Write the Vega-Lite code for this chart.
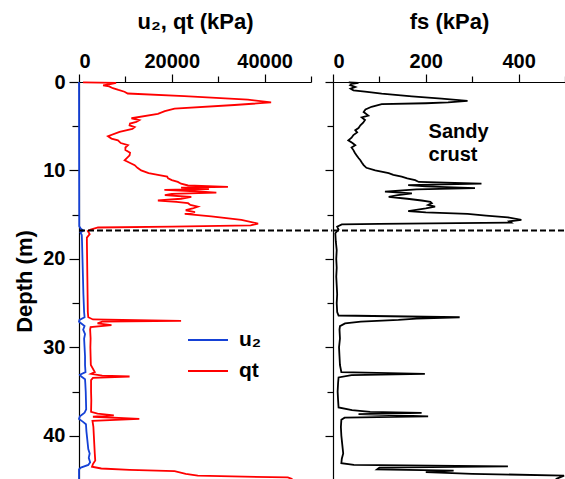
{
  "$schema": "https://vega.github.io/schema/vega-lite/v6.json",
  "padding": {"left": 13, "top": 10, "right": 0, "bottom": 0},
  "background": "white",
  "config": {
    "view": {"stroke": null},
    "font": "Liberation Sans",
    "axis": {
      "grid": false,
      "labelFont": "Liberation Sans", "labelFontWeight": "bold", "labelFontSize": 20, "labelColor": "black",
      "titleFont": "Liberation Sans", "titleFontWeight": "bold", "titleFontSize": 22, "titleColor": "black",
      "domainColor": "black", "tickColor": "black", "domainWidth": 1.2, "tickWidth": 1.2
    }
  },
  "datasets": {
    "left": [
      {"param": "u₂", "depth": 0, "value": 0}, {"param": "u₂", "depth": 16.3, "value": 50}, {"param": "u₂", "depth": 16.6, "value": 400},
      {"param": "u₂", "depth": 16.8, "value": 950}, {"param": "u₂", "depth": 17.0, "value": 300}, {"param": "u₂", "depth": 17.3, "value": 600},
      {"param": "u₂", "depth": 18, "value": 650}, {"param": "u₂", "depth": 20, "value": 750}, {"param": "u₂", "depth": 22, "value": 850},
      {"param": "u₂", "depth": 24, "value": 950}, {"param": "u₂", "depth": 26, "value": 1100}, {"param": "u₂", "depth": 26.6, "value": 1200},
      {"param": "u₂", "depth": 26.9, "value": 100}, {"param": "u₂", "depth": 27.1, "value": 0}, {"param": "u₂", "depth": 27.3, "value": 500},
      {"param": "u₂", "depth": 27.6, "value": 1200}, {"param": "u₂", "depth": 28, "value": 900}, {"param": "u₂", "depth": 28.5, "value": 1300},
      {"param": "u₂", "depth": 29, "value": 1100}, {"param": "u₂", "depth": 30, "value": 1200}, {"param": "u₂", "depth": 31, "value": 1300},
      {"param": "u₂", "depth": 32, "value": 1300}, {"param": "u₂", "depth": 32.8, "value": 1400}, {"param": "u₂", "depth": 33.1, "value": 200},
      {"param": "u₂", "depth": 33.3, "value": 500}, {"param": "u₂", "depth": 33.6, "value": 1300}, {"param": "u₂", "depth": 34, "value": 1350},
      {"param": "u₂", "depth": 35, "value": 1450}, {"param": "u₂", "depth": 36, "value": 1500}, {"param": "u₂", "depth": 37, "value": 1550},
      {"param": "u₂", "depth": 37.4, "value": 1200}, {"param": "u₂", "depth": 37.8, "value": 200}, {"param": "u₂", "depth": 38.1, "value": 0},
      {"param": "u₂", "depth": 38.4, "value": 800}, {"param": "u₂", "depth": 38.7, "value": 1500}, {"param": "u₂", "depth": 39.5, "value": 1600},
      {"param": "u₂", "depth": 40.5, "value": 1800}, {"param": "u₂", "depth": 41.5, "value": 2000}, {"param": "u₂", "depth": 42, "value": 2300},
      {"param": "u₂", "depth": 42.5, "value": 2100}, {"param": "u₂", "depth": 43, "value": 2400}, {"param": "u₂", "depth": 43.3, "value": 2000},
      {"param": "u₂", "depth": 43.6, "value": 400}, {"param": "u₂", "depth": 43.8, "value": 0}, {"param": "u₂", "depth": 45, "value": 0},
      {"param": "qt", "depth": 0.05, "value": 860}, {"param": "qt", "depth": 0.1, "value": 8000}, {"param": "qt", "depth": 0.2, "value": 7000},
      {"param": "qt", "depth": 0.37, "value": 5200}, {"param": "qt", "depth": 0.5, "value": 6500}, {"param": "qt", "depth": 0.7, "value": 7300},
      {"param": "qt", "depth": 0.9, "value": 8500}, {"param": "qt", "depth": 1.1, "value": 9800}, {"param": "qt", "depth": 1.3, "value": 10500},
      {"param": "qt", "depth": 1.6, "value": 22700}, {"param": "qt", "depth": 2.0, "value": 36400}, {"param": "qt", "depth": 2.3, "value": 41400},
      {"param": "qt", "depth": 2.4, "value": 39000}, {"param": "qt", "depth": 2.6, "value": 33500}, {"param": "qt", "depth": 3.0, "value": 20600},
      {"param": "qt", "depth": 3.3, "value": 18500}, {"param": "qt", "depth": 3.6, "value": 17000}, {"param": "qt", "depth": 4.1, "value": 11300},
      {"param": "qt", "depth": 4.3, "value": 13000}, {"param": "qt", "depth": 4.5, "value": 12350}, {"param": "qt", "depth": 4.7, "value": 11000},
      {"param": "qt", "depth": 4.9, "value": 10900}, {"param": "qt", "depth": 5.1, "value": 12000}, {"param": "qt", "depth": 5.3, "value": 11500},
      {"param": "qt", "depth": 5.65, "value": 8750}, {"param": "qt", "depth": 6.13, "value": 6250}, {"param": "qt", "depth": 6.4, "value": 7000},
      {"param": "qt", "depth": 6.6, "value": 8400}, {"param": "qt", "depth": 6.9, "value": 9000}, {"param": "qt", "depth": 7.15, "value": 10550},
      {"param": "qt", "depth": 7.4, "value": 10000}, {"param": "qt", "depth": 7.7, "value": 10000}, {"param": "qt", "depth": 8.0, "value": 11000},
      {"param": "qt", "depth": 8.3, "value": 10900}, {"param": "qt", "depth": 8.6, "value": 10300}, {"param": "qt", "depth": 8.85, "value": 9830},
      {"param": "qt", "depth": 9.1, "value": 10800}, {"param": "qt", "depth": 9.4, "value": 12000}, {"param": "qt", "depth": 9.7, "value": 12600},
      {"param": "qt", "depth": 10.0, "value": 13400}, {"param": "qt", "depth": 10.3, "value": 15000}, {"param": "qt", "depth": 10.5, "value": 17000},
      {"param": "qt", "depth": 10.7, "value": 19000}, {"param": "qt", "depth": 10.9, "value": 19200}, {"param": "qt", "depth": 11.1, "value": 20000},
      {"param": "qt", "depth": 11.3, "value": 21300}, {"param": "qt", "depth": 11.5, "value": 22000}, {"param": "qt", "depth": 11.7, "value": 23500},
      {"param": "qt", "depth": 11.85, "value": 32100}, {"param": "qt", "depth": 11.95, "value": 22000}, {"param": "qt", "depth": 12.1, "value": 28000},
      {"param": "qt", "depth": 12.2, "value": 18400}, {"param": "qt", "depth": 12.35, "value": 25000}, {"param": "qt", "depth": 12.5, "value": 29600},
      {"param": "qt", "depth": 12.65, "value": 20000}, {"param": "qt", "depth": 12.8, "value": 18500}, {"param": "qt", "depth": 13.0, "value": 24200},
      {"param": "qt", "depth": 13.2, "value": 22000}, {"param": "qt", "depth": 13.4, "value": 17000}, {"param": "qt", "depth": 13.55, "value": 21000},
      {"param": "qt", "depth": 13.7, "value": 23500}, {"param": "qt", "depth": 13.9, "value": 24000}, {"param": "qt", "depth": 14.1, "value": 25600},
      {"param": "qt", "depth": 14.3, "value": 24500}, {"param": "qt", "depth": 14.5, "value": 23000}, {"param": "qt", "depth": 14.7, "value": 25000},
      {"param": "qt", "depth": 14.9, "value": 22800}, {"param": "qt", "depth": 15.2, "value": 28500}, {"param": "qt", "depth": 15.6, "value": 35000},
      {"param": "qt", "depth": 16.0, "value": 38600}, {"param": "qt", "depth": 16.2, "value": 37000}, {"param": "qt", "depth": 16.35, "value": 20000},
      {"param": "qt", "depth": 16.45, "value": 4100}, {"param": "qt", "depth": 16.7, "value": 2500}, {"param": "qt", "depth": 16.85, "value": 1900},
      {"param": "qt", "depth": 17.2, "value": 2300}, {"param": "qt", "depth": 17.6, "value": 1700}, {"param": "qt", "depth": 18, "value": 1700},
      {"param": "qt", "depth": 20, "value": 1750}, {"param": "qt", "depth": 22, "value": 1800}, {"param": "qt", "depth": 24, "value": 1850},
      {"param": "qt", "depth": 26, "value": 1900}, {"param": "qt", "depth": 26.6, "value": 2000}, {"param": "qt", "depth": 26.85, "value": 3000},
      {"param": "qt", "depth": 27.0, "value": 22000}, {"param": "qt", "depth": 27.1, "value": 5000}, {"param": "qt", "depth": 27.3, "value": 4000},
      {"param": "qt", "depth": 27.5, "value": 7000}, {"param": "qt", "depth": 27.7, "value": 2500}, {"param": "qt", "depth": 28, "value": 2400},
      {"param": "qt", "depth": 29, "value": 2500}, {"param": "qt", "depth": 30, "value": 2450}, {"param": "qt", "depth": 31, "value": 2500},
      {"param": "qt", "depth": 32, "value": 2550}, {"param": "qt", "depth": 32.8, "value": 3400}, {"param": "qt", "depth": 33.0, "value": 2600},
      {"param": "qt", "depth": 33.2, "value": 5000}, {"param": "qt", "depth": 33.3, "value": 10900}, {"param": "qt", "depth": 33.45, "value": 3000},
      {"param": "qt", "depth": 33.7, "value": 2600}, {"param": "qt", "depth": 35, "value": 2600}, {"param": "qt", "depth": 36, "value": 2650},
      {"param": "qt", "depth": 37.3, "value": 2600}, {"param": "qt", "depth": 37.5, "value": 4000}, {"param": "qt", "depth": 37.7, "value": 7500},
      {"param": "qt", "depth": 37.85, "value": 3000}, {"param": "qt", "depth": 38.1, "value": 13000}, {"param": "qt", "depth": 38.3, "value": 2900},
      {"param": "qt", "depth": 39, "value": 3100}, {"param": "qt", "depth": 40, "value": 3200}, {"param": "qt", "depth": 41, "value": 3300},
      {"param": "qt", "depth": 42, "value": 3400}, {"param": "qt", "depth": 42.8, "value": 3500}, {"param": "qt", "depth": 43.2, "value": 3000},
      {"param": "qt", "depth": 43.5, "value": 2800}, {"param": "qt", "depth": 43.7, "value": 4800}, {"param": "qt", "depth": 43.85, "value": 10900},
      {"param": "qt", "depth": 44.0, "value": 20600}, {"param": "qt", "depth": 44.3, "value": 23000}, {"param": "qt", "depth": 44.5, "value": 25600},
      {"param": "qt", "depth": 44.6, "value": 33000}, {"param": "qt", "depth": 44.7, "value": 45000}, {"param": "qt", "depth": 44.9, "value": 46000}
    ],
    "fs": [
      {"depth": 0.05, "fs": 34}, {"depth": 0.1, "fs": 55}, {"depth": 0.2, "fs": 40}, {"depth": 0.35, "fs": 37}, {"depth": 0.56, "fs": 48},
      {"depth": 0.75, "fs": 38}, {"depth": 0.94, "fs": 44}, {"depth": 1.1, "fs": 69}, {"depth": 1.32, "fs": 105}, {"depth": 1.62, "fs": 170},
      {"depth": 1.88, "fs": 234}, {"depth": 2.14, "fs": 290}, {"depth": 2.3, "fs": 248}, {"depth": 2.4, "fs": 200}, {"depth": 2.5, "fs": 105},
      {"depth": 2.8, "fs": 83}, {"depth": 3.1, "fs": 70}, {"depth": 3.4, "fs": 66}, {"depth": 3.8, "fs": 76}, {"depth": 4.0, "fs": 62},
      {"depth": 4.3, "fs": 69}, {"depth": 4.6, "fs": 65}, {"depth": 4.9, "fs": 59}, {"depth": 5.2, "fs": 55}, {"depth": 5.45, "fs": 48},
      {"depth": 5.7, "fs": 52}, {"depth": 6.0, "fs": 44}, {"depth": 6.3, "fs": 40}, {"depth": 6.6, "fs": 33}, {"depth": 6.9, "fs": 42},
      {"depth": 7.15, "fs": 48}, {"depth": 7.4, "fs": 40}, {"depth": 7.7, "fs": 44}, {"depth": 8.0, "fs": 47}, {"depth": 8.3, "fs": 51},
      {"depth": 8.6, "fs": 55}, {"depth": 8.85, "fs": 59}, {"depth": 9.1, "fs": 62}, {"depth": 9.4, "fs": 66}, {"depth": 9.7, "fs": 72},
      {"depth": 10.0, "fs": 91}, {"depth": 10.3, "fs": 120}, {"depth": 10.5, "fs": 130}, {"depth": 10.7, "fs": 148}, {"depth": 10.9, "fs": 160},
      {"depth": 11.1, "fs": 177}, {"depth": 11.3, "fs": 185}, {"depth": 11.5, "fs": 320}, {"depth": 11.65, "fs": 162}, {"depth": 11.8, "fs": 200},
      {"depth": 12.0, "fs": 306}, {"depth": 12.15, "fs": 180}, {"depth": 12.4, "fs": 112}, {"depth": 12.6, "fs": 170}, {"depth": 12.8, "fs": 140},
      {"depth": 13.0, "fs": 120}, {"depth": 13.2, "fs": 160}, {"depth": 13.4, "fs": 191}, {"depth": 13.55, "fs": 210}, {"depth": 13.7, "fs": 213},
      {"depth": 13.9, "fs": 205}, {"depth": 14.1, "fs": 220}, {"depth": 14.3, "fs": 200}, {"depth": 14.6, "fs": 162}, {"depth": 14.75, "fs": 200},
      {"depth": 14.9, "fs": 290}, {"depth": 15.1, "fs": 330}, {"depth": 15.3, "fs": 377}, {"depth": 15.6, "fs": 406}, {"depth": 15.75, "fs": 380},
      {"depth": 15.9, "fs": 384}, {"depth": 16.05, "fs": 100}, {"depth": 16.1, "fs": 19}, {"depth": 16.35, "fs": 9}, {"depth": 16.7, "fs": 12},
      {"depth": 17.1, "fs": 5}, {"depth": 18, "fs": 6}, {"depth": 19, "fs": 8}, {"depth": 20, "fs": 7}, {"depth": 21, "fs": 8},
      {"depth": 22, "fs": 7}, {"depth": 23, "fs": 8}, {"depth": 24, "fs": 9}, {"depth": 25, "fs": 8}, {"depth": 26, "fs": 9},
      {"depth": 26.4, "fs": 12}, {"depth": 26.6, "fs": 273}, {"depth": 26.75, "fs": 180}, {"depth": 26.9, "fs": 141}, {"depth": 27.1, "fs": 60},
      {"depth": 27.3, "fs": 26}, {"depth": 27.6, "fs": 15}, {"depth": 28, "fs": 14}, {"depth": 29, "fs": 15}, {"depth": 30, "fs": 13},
      {"depth": 31, "fs": 14}, {"depth": 32, "fs": 15}, {"depth": 32.8, "fs": 18}, {"depth": 33.0, "fs": 198}, {"depth": 33.15, "fs": 40},
      {"depth": 33.4, "fs": 12}, {"depth": 34, "fs": 11}, {"depth": 35, "fs": 10}, {"depth": 36, "fs": 11}, {"depth": 36.8, "fs": 12},
      {"depth": 37.1, "fs": 41}, {"depth": 37.3, "fs": 80}, {"depth": 37.4, "fs": 191}, {"depth": 37.55, "fs": 55}, {"depth": 37.8, "fs": 205},
      {"depth": 37.95, "fs": 25}, {"depth": 38.2, "fs": 18}, {"depth": 39, "fs": 17}, {"depth": 40, "fs": 18}, {"depth": 41, "fs": 20},
      {"depth": 42, "fs": 22}, {"depth": 42.6, "fs": 19}, {"depth": 43.1, "fs": 18}, {"depth": 43.3, "fs": 45}, {"depth": 43.45, "fs": 377},
      {"depth": 43.6, "fs": 100}, {"depth": 43.8, "fs": 95}, {"depth": 43.95, "fs": 260}, {"depth": 44.1, "fs": 200}, {"depth": 44.3, "fs": 300},
      {"depth": 44.5, "fs": 498}, {"depth": 44.9, "fs": 480}
    ],
    "boundary": [{"depth": 16.8}],
    "note": [{"fs": 206, "depth": 6.3, "label": "Sandy\ncrust"}]
  },
  "spacing": 22,
  "bounds": "flush",
  "resolve": {"scale": {"x": "independent", "y": "independent", "color": "independent"}},
  "hconcat": [
    {
      "width": 232, "height": 398,
      "layer": [
        {
          "data": {"name": "left"},
          "mark": {"type": "line", "strokeWidth": 1.8},
          "encoding": {
            "y": {"field": "depth", "type": "quantitative",
              "scale": {"domain": [0, 45], "reverse": true, "nice": false, "zero": false},
              "axis": {"title": "Depth (m)", "values": [0, 5, 10, 15, 20, 25, 30, 35, 40, 45],
                "labelExpr": "datum.value % 10 === 0 ? datum.label : ''",
                "tickSize": {"expr": "datum.value % 10 === 0 ? 10 : 7"}, "labelPadding": 4, "titlePadding": 6}},
            "x": {"field": "value", "type": "quantitative",
              "scale": {"domain": [0, 50000], "nice": false},
              "axis": {"orient": "top", "title": "u₂, qt (kPa)", "format": "d",
                "values": [0, 10000, 20000, 30000, 40000, 50000],
                "labelExpr": "datum.value % 20000 === 0 ? datum.label : ''",
                "tickSize": {"expr": "datum.value % 20000 === 0 ? 8 : 6"}, "labelPadding": 3, "titlePadding": 18}},
            "color": {"field": "param", "type": "nominal",
              "scale": {"domain": ["u₂", "qt"], "range": ["#1541d6", "#ff0000"]},
              "legend": {"title": null, "orient": "none", "legendX": 108, "legendY": 237, "padding": 0,
                "symbolType": "stroke", "symbolSize": 1600, "symbolStrokeWidth": 2,
                "labelFont": "Liberation Sans", "labelFontWeight": "bold", "labelFontSize": 21, "labelColor": "black",
                "labelOffset": 10, "rowPadding": -20}},
            "order": {"field": "depth"}
          }
        },
        {
          "data": {"name": "boundary"},
          "mark": {"type": "rule", "strokeDash": [6, 3], "strokeWidth": 2, "color": "black", "clip": false},
          "encoding": {
            "y": {"field": "depth", "type": "quantitative"},
            "x": {"datum": 0},
            "x2": {"datum": 54600}
          }
        }
      ]
    },
    {
      "width": 232, "height": 398,
      "layer": [
        {
          "data": {"name": "fs"},
          "mark": {"type": "line", "strokeWidth": 1.8, "color": "black"},
          "encoding": {
            "y": {"field": "depth", "type": "quantitative",
              "scale": {"domain": [0, 45], "reverse": true, "nice": false, "zero": false},
              "axis": {"title": null, "labels": false, "values": [0, 5, 10, 15, 20, 25, 30, 35, 40, 45],
                "tickSize": {"expr": "datum.value % 10 === 0 ? 8 : 6"}}},
            "x": {"field": "fs", "type": "quantitative",
              "scale": {"domain": [0, 500], "nice": false},
              "axis": {"orient": "top", "title": "fs (kPa)",
                "values": [0, 100, 200, 300, 400, 500],
                "labelExpr": "datum.value % 200 === 0 ? datum.label : ''",
                "tickSize": {"expr": "datum.value % 200 === 0 ? 8 : 6"}, "labelPadding": 3, "titlePadding": 18}},
            "order": {"field": "depth"}
          }
        },
        {
          "data": {"name": "boundary"},
          "mark": {"type": "rule", "strokeDash": [6, 3], "strokeWidth": 2, "color": "black"},
          "encoding": {
            "y": {"field": "depth", "type": "quantitative"},
            "x": {"datum": 0},
            "x2": {"datum": 500}
          }
        },
        {
          "data": {"name": "note"},
          "mark": {"type": "text", "align": "left", "baseline": "alphabetic", "lineBreak": "\n", "lineHeight": 23,
            "font": "Liberation Sans", "fontWeight": "bold", "fontSize": 20, "color": "black"},
          "encoding": {
            "x": {"field": "fs", "type": "quantitative"},
            "y": {"field": "depth", "type": "quantitative"},
            "text": {"field": "label"}
          }
        }
      ]
    }
  ]
}
